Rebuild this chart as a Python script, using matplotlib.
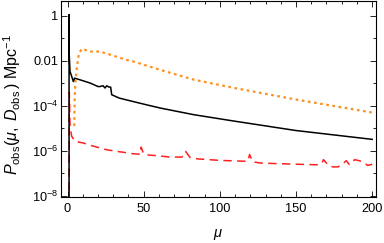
import matplotlib
matplotlib.use("Agg")
import matplotlib.pyplot as plt
from matplotlib.ticker import FixedLocator, FuncFormatter, NullFormatter

plt.rcParams['font.family'] = ['Liberation Sans', 'DejaVu Sans']
plt.rcParams['mathtext.fontset'] = 'custom'
plt.rcParams['mathtext.rm'] = 'Liberation Sans'
plt.rcParams['mathtext.it'] = 'Liberation Sans:italic'
plt.rcParams['mathtext.bf'] = 'Liberation Sans:bold'

# black solid curve
mu_black = [0.98, 1.0, 1.1, 1.6, 2.75, 3.8, 4.6, 8, 15, 20, 21.3, 23.3, 24.6, 25.7, 27.2, 28.3, 29.0,
            34, 43, 52, 61, 83, 109, 150, 200]
p_black = [1e-9, 1.15, 2e-2, 3.4e-3, 2.0e-3, 1.2e-3, 1.7e-3, 1.45e-3, 1.02e-3, 7.2e-4, 7.2e-4, 7.8e-4,
           6.2e-4, 7.8e-4, 6.8e-4, 6.8e-4, 3.1e-4, 2.2e-4, 1.55e-4, 1.1e-4, 7.9e-5, 4.0e-5, 2.1e-5,
           7.9e-6, 3.2e-6]

# orange dotted curve
mu_orange = [4.4, 4.7, 5.1, 6.2, 7.5, 9.5, 14.6, 21.3, 27.9, 38.8, 44, 60.7, 83, 109, 150, 200]
p_orange = [1.26e-5, 2.2e-4, 1.02e-3, 5.6e-3, 2.2e-2, 3.5e-2, 2.6e-2, 2.6e-2, 1.9e-2, 1.1e-2, 9.1e-3,
            4.0e-3, 1.45e-3, 6.3e-4, 1.9e-4, 5.0e-5]

# red dashed curve
mu_red = [0.98, 1.15, 1.6, 2.7, 4.9, 10.3, 16.9, 25.7, 32.3, 36.7, 42.3, 47.8, 48.3, 49.7, 51, 58.5,
          67.2, 75, 76.5, 77.5, 80.4, 85.7, 100, 116, 118.5, 119.5, 121.5, 127, 150, 165, 167, 168,
          171, 174, 177.5, 180.5, 183, 185, 188.5, 192, 195, 197, 200]
p_red = [1e-9, 4e-4, 1.26e-5, 4.4e-6, 2.6e-6, 2.2e-6, 1.6e-6, 1.1e-6, 9.3e-7, 8.5e-7, 7.4e-7, 6.9e-7,
         1.45e-6, 7.9e-7, 6.6e-7, 6.0e-7, 5.2e-7, 5.2e-7, 6.3e-7, 9.3e-7, 5.0e-7, 4.3e-7, 3.7e-7,
         3.4e-7, 3.5e-7, 6.8e-7, 3.2e-7, 2.8e-7, 2.5e-7, 2.35e-7, 2.8e-7, 4.0e-7, 2.35e-7, 1.9e-7,
         1.9e-7, 2.5e-7, 3.6e-7, 2.4e-7, 4.0e-7, 3.5e-7, 2.8e-7, 2.2e-7, 2.5e-7]

x_major = [0, 50, 100, 150, 200]
x_minor = [10, 20, 30, 40, 60, 70, 80, 90, 110, 120, 130, 140, 160, 170, 180, 190]
y_major = [1, 1e-2, 1e-4, 1e-6, 1e-8]
y_minor = [1e-1, 1e-3, 1e-5, 1e-7]
y_labels = {1: '1', 1e-2: '0.01', 1e-4: '$10^{-4}$', 1e-6: '$10^{-6}$', 1e-8: '$10^{-8}$'}

fig = plt.figure(figsize=(3.84, 2.43), dpi=100)
ax = fig.add_axes([61/384, 1 - 196.5/243, (376 - 61)/384, (196.5 - 1)/243])

ax.plot(mu_orange, p_orange, color='#ff9020', lw=1.6, linestyle=(0, (1.2, 1.6)), dash_capstyle='butt')
ax.plot(mu_red, p_red, color='#ff2020', lw=1.1, linestyle=(0, (5.5, 3.5)))
ax.plot(mu_black, p_black, color='black', lw=1.1)

ax.set_yscale('log')
ax.set_xlim(-4.3, 202.5)
ax.set_ylim(10**-8.04, 10**0.667)

ax.xaxis.set_major_locator(FixedLocator(x_major))
ax.xaxis.set_minor_locator(FixedLocator(x_minor))
ax.yaxis.set_major_locator(FixedLocator(y_major))
ax.yaxis.set_minor_locator(FixedLocator(y_minor))
ax.yaxis.set_minor_formatter(NullFormatter())
ax.yaxis.set_major_formatter(FuncFormatter(lambda v, p: min(y_labels.items(), key=lambda kv: abs(kv[0] - v) / kv[0])[1]))
ax.tick_params(which='both', direction='in', top=True, right=True, labelsize=9.2, width=0.6, colors='black')
ax.tick_params(which='major', length=4)
ax.tick_params(which='minor', length=2.5)
ax.tick_params(axis='x', pad=5)
ax.tick_params(axis='y', pad=2)
for s in ax.spines.values():
    s.set_linewidth(0.8)

ax.set_xlabel(r'$\mu$', fontsize=10.5, labelpad=8)
ax.set_ylabel(r'$P_{\mathrm{obs}}(\mu,\;D_{\mathrm{obs}}\,)$ Mpc$^{-1}$', fontsize=11.5)
ax.yaxis.set_label_coords(-0.122, 0.47)

fig.savefig('out.png', dpi=100)
